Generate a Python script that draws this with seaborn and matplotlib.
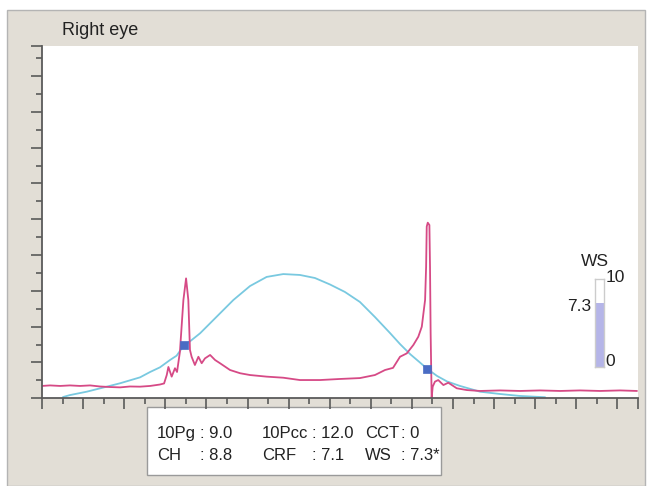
import matplotlib
matplotlib.use("Agg")
import matplotlib.pyplot as plt
from matplotlib.patches import Rectangle
from matplotlib.ticker import FixedLocator, NullFormatter
import numpy as np
import pandas as pd
import seaborn as sns

# Applanation signal (pink), time in tick units, amplitude in tick units
signal_t = [0.00, 0.39, 0.88, 1.36, 1.85, 2.34, 2.82, 3.31, 3.80, 4.28, 4.77, 5.26,
            5.74, 5.94, 6.07, 6.15, 6.31, 6.47, 6.57, 6.71, 6.88, 7.01, 7.12, 7.20,
            7.28, 7.44, 7.61, 7.77, 7.93, 8.18, 8.42, 8.66, 9.15, 9.64, 10.12, 10.93,
            11.74, 12.55, 13.53, 14.50, 15.47, 16.20, 16.69, 17.08, 17.42, 17.75, 18.07,
            18.31, 18.48, 18.56, 18.64, 18.69, 18.72, 18.77, 18.85, 18.88, 18.91, 18.96,
            19.01, 19.12, 19.28, 19.53, 19.77, 20.18, 20.67, 21.31, 22.29, 23.26, 24.23,
            25.21, 26.18, 27.15, 28.13, 28.95]
signal_v = [0.69, 0.72, 0.69, 0.72, 0.69, 0.72, 0.66, 0.63, 0.61, 0.66, 0.65, 0.69,
            0.77, 0.83, 1.30, 1.75, 1.21, 1.68, 1.47, 2.59, 5.49, 6.70, 5.49, 2.70,
            2.32, 1.86, 2.32, 1.96, 2.23, 2.42, 2.14, 1.96, 1.58, 1.40, 1.30, 1.21,
            1.15, 1.02, 1.02, 1.08, 1.13, 1.30, 1.58, 1.70, 2.32, 2.51, 2.98,
            3.44, 4.00, 4.75, 5.49, 7.35, 9.59, 9.81, 9.68, 7.35, 3.65, 0.02,
            0.65, 0.93, 1.02, 0.74, 0.87, 0.56, 0.46, 0.41, 0.44, 0.41, 0.44,
            0.41, 0.44, 0.41, 0.44, 0.41]

# Air-puff pressure (blue)
pressure_t = [1.02, 1.36, 2.18, 3.15, 3.80, 4.77, 5.26, 5.74, 6.23, 6.55, 6.88, 7.20,
              7.69, 8.50, 9.31, 10.12, 10.93, 11.74, 12.55, 13.28, 14.01, 14.74, 15.47,
              16.20, 16.93, 17.42, 17.91, 18.39, 18.73, 19.22, 19.71, 20.34, 21.31,
              22.29, 23.26, 24.48]
pressure_v = [0.07, 0.18, 0.37, 0.65, 0.84, 1.17, 1.47, 1.73, 2.14, 2.38, 2.92, 3.18,
              3.63, 4.56, 5.49, 6.27, 6.78, 6.94, 6.89, 6.72, 6.36, 5.94, 5.38,
              4.54, 3.65, 3.03, 2.47, 2.00, 1.66, 1.25, 0.94, 0.69, 0.37,
              0.24, 0.13, 0.06]

# Inward and outward applanation points
applanation_t = [6.89, 18.73]
applanation_v = [2.95, 1.64]

# Measurement summary
summary_labels = ["10Pg", "10Pcc", "CCT", "CH", "CRF", "WS"]
summary_values = ["9.0", "12.0", "0", "8.8", "7.1", "7.3*"]

# Waveform score gauge
ws_score = 7.3
ws_max = 10

sns.set_theme(style="white")
plt.rcParams["font.family"] = ["Liberation Sans", "DejaVu Sans"]

W, H = 651, 486
fig = plt.figure(figsize=(W / 100, H / 100), dpi=100)
fig.patch.set_facecolor("white")

# Beige instrument panel
fig.add_artist(Rectangle((7 / W, 0), (645 - 7) / W, (H - 10) / H,
                         transform=fig.transFigure, facecolor="#e2ded6",
                         edgecolor="#b4b4b4", linewidth=1.0, zorder=0))

ax = fig.add_axes([42 / W, (H - 398.3) / H, (638 - 42) / W, (398.3 - 46) / H])
ax.set_facecolor("white")
ax.set_zorder(2)

sig = pd.DataFrame({"t": signal_t, "v": signal_v})
prs = pd.DataFrame({"t": pressure_t, "v": pressure_v})
app = pd.DataFrame({"t": applanation_t, "v": applanation_v})

sns.lineplot(data=prs, x="t", y="v", ax=ax, color="#79c9e0", linewidth=1.3,
             estimator=None, sort=False)
sns.lineplot(data=sig, x="t", y="v", ax=ax, color="#d64a86", linewidth=1.3,
             estimator=None, sort=False)
sns.scatterplot(data=app, x="t", y="v", ax=ax, marker="s", s=40,
                color="#4a6cc4", edgecolor="#4a6cc4", linewidth=0.5, zorder=5)

ax.set_xlim(0, 29)
ax.set_ylim(0, 19.68)
ax.set_xlabel("")
ax.set_ylabel("")

for s in ("top", "right"):
    ax.spines[s].set_visible(False)
for s in ("left", "bottom"):
    ax.spines[s].set_color("#5a5a5a")
    ax.spines[s].set_linewidth(1.3)

ax.xaxis.set_major_locator(FixedLocator(list(range(0, 29, 2)) + [29]))
ax.xaxis.set_minor_locator(FixedLocator(list(range(1, 29, 2))))
ax.yaxis.set_major_locator(FixedLocator(list(range(0, 19, 2)) + [19.68]))
ax.yaxis.set_minor_locator(FixedLocator(list(range(1, 20, 2))))
for axis in (ax.xaxis, ax.yaxis):
    axis.set_major_formatter(NullFormatter())
    axis.set_minor_formatter(NullFormatter())
ax.tick_params(which="major", direction="out", length=8, width=1.2,
               color="#5a5a5a", bottom=True, left=True)
ax.tick_params(which="minor", direction="out", length=4.5, width=1.2,
               color="#5a5a5a", bottom=True, left=True)

fig.text(62 / W, 1 - 30 / H, "Right eye", fontsize=13, color="#222222",
         ha="left", va="center")

# Summary box
fig.add_artist(Rectangle((147 / W, 1 - 475 / H), (441 - 147) / W, (475 - 407) / H,
                         transform=fig.transFigure, facecolor="white",
                         edgecolor="#9a9a9a", linewidth=1.0, zorder=1))
label_x = [157, 262, 365, 157, 262, 365]
colon_x = [200, 312, 401, 200, 312, 401]
row_y = [433, 433, 433, 456, 456, 456]
for lab, val, lx, cx, ry in zip(summary_labels, summary_values, label_x, colon_x, row_y):
    fig.text(lx / W, 1 - ry / H, lab, fontsize=12, color="#222222",
             ha="left", va="center")
    fig.text(cx / W, 1 - ry / H, ": " + val, fontsize=12, color="#222222",
             ha="left", va="center")

# WS gauge
gx = fig.add_axes([595 / W, (H - 367) / H, 9 / W, 88 / H])
gx.set_zorder(3)
sns.barplot(x=[0], y=[ws_score], ax=gx, color="#b5b5e8", width=1.0,
            saturation=1, edgecolor="none")
gx.set_xlim(-0.5, 0.5)
gx.set_ylim(0, ws_max)
gx.set_xticks([])
gx.set_yticks([])
gx.set_xlabel("")
gx.set_ylabel("")
gx.set_facecolor("white")
for s in gx.spines.values():
    s.set_color("#cccccc")
    s.set_linewidth(1.0)

fig.text(595 / W, 1 - 261 / H, "WS", fontsize=12.5, color="#222222",
         ha="center", va="center")
fig.text(606 / W, 1 - 278 / H, str(ws_max), fontsize=12.5, color="#222222",
         ha="left", va="center")
fig.text(591 / W, 1 - 306 / H, f"{ws_score:.1f}", fontsize=12.5, color="#222222",
         ha="right", va="center")
fig.text(605 / W, 1 - 361 / H, "0", fontsize=12.5, color="#222222",
         ha="left", va="center")

fig.savefig("out.png", dpi=100)
